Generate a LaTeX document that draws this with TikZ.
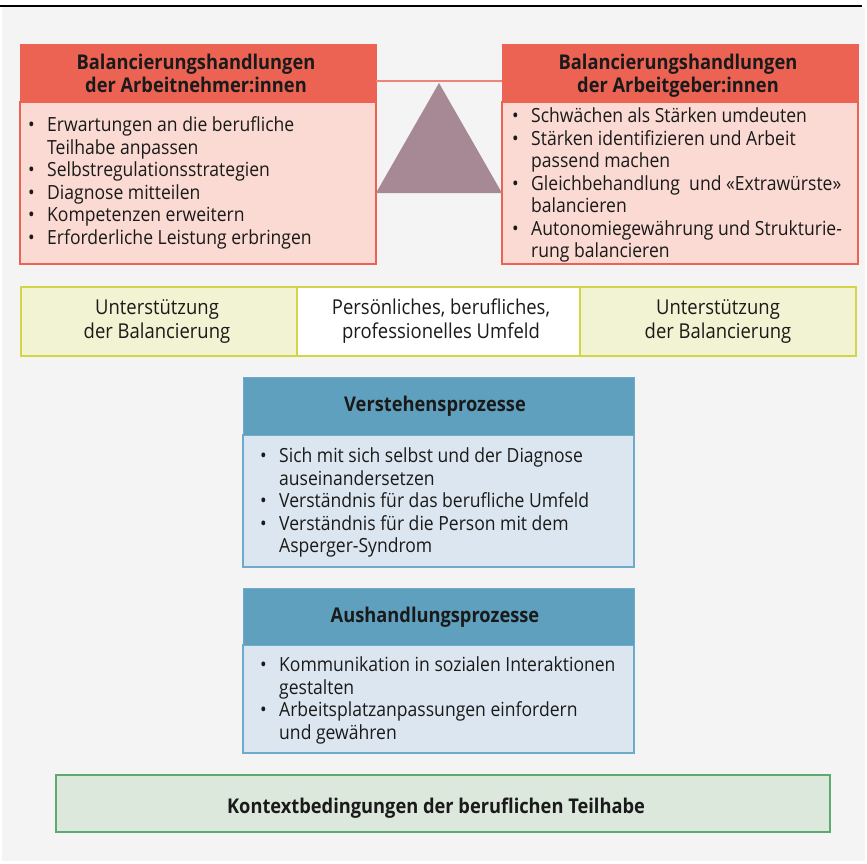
\documentclass[tikz,border=0pt]{standalone}
\usepackage{fontspec}
\setmainfont{Open Sans}[FakeStretch=0.9]
\definecolor{bggray}{HTML}{F4F4F4}
\definecolor{redhd}{HTML}{EC6354}
\definecolor{redbd}{HTML}{FADAD2}
\definecolor{beamc}{HTML}{EE8478}
\definecolor{tric}{HTML}{A78996}
\definecolor{yelf}{HTML}{F2F3D3}
\definecolor{yeld}{HTML}{D3D546}
\definecolor{bluehd}{HTML}{5FA0BE}
\definecolor{bluebd}{HTML}{DCE6F0}
\definecolor{bluedr}{HTML}{6EAACA}
\definecolor{grnf}{HTML}{DDE8DD}
\definecolor{grnd}{HTML}{5CAA70}
\definecolor{txt}{HTML}{1A1A1A}
\newcommand{\bodyfnt}{\fontsize{19.5}{22.5}\selectfont}
\newcommand{\bandfnt}{\fontsize{20.5}{24}\selectfont}
\newcommand{\hdfnt}{\fontsize{20.3}{23.4}\selectfont\bfseries}
\newcommand{\tlines}[2]{\begin{tabular}[t]{@{}#1@{}}#2\end{tabular}}
\newcommand{\bi}{\makebox[19pt][l]{•}}
\newcommand{\bc}{\hspace*{19pt}}
\begin{document}
\begin{tikzpicture}[x=1pt,y=-1pt,
  box/.style={anchor=north west, inner sep=0pt, outer sep=0pt},
  redhead/.style={box, fill=redhd, draw=redhd, line width=1pt},
  redbody/.style={box, fill=redbd, draw=redhd, line width=1.2pt},
  yelcell/.style={box, fill=yelf, draw=yeld, line width=1.2pt},
  whcell/.style={box, fill=white, draw=yeld, line width=1.2pt},
  bluehead/.style={box, fill=bluehd, draw=bluedr, line width=1pt},
  bluebody/.style={box, fill=bluebd, draw=bluedr, line width=1.2pt},
  grnbox/.style={box, fill=grnf, draw=grnd, line width=2.2pt},
  hdtxt/.style={anchor=base, inner sep=0pt, font=\hdfnt, text=txt},
  bdtxt/.style={anchor=base west, inner sep=0pt, font=\bodyfnt, text=txt},
  cttxt/.style={anchor=base, inner sep=0pt, font=\bandfnt, text=txt},
]
\useasboundingbox (0,0) rectangle (867,863);
\fill[white] (0,0) rectangle (867,863);
\fill[bggray] (2,7) rectangle (865,861);
\draw[line width=1.5pt] (0,6) -- (862,6);

% left red box
\node[redbody, minimum width=356pt, minimum height=162pt] (lbody) at (20,102) {};
\node[redhead, minimum width=356pt, minimum height=58pt] (lhead) at (20,44) {};
\node[hdtxt] (lheadt) at (196,69.3) {\tlines{c}{Balancierungshandlungen\\der Arbeitnehmer:innen}};
\node[bdtxt] (lbodyt) at (28,131.7) {\tlines{l}{%
\bi Erwartungen an die berufliche\\
\bc Teilhabe anpassen\\
\bi Selbstregulationsstrategien\\
\bi Diagnose mitteilen\\
\bi Kompetenzen erweitern\\
\bi Erforderliche Leistung erbringen}};

% right red box
\node[redbody, minimum width=356pt, minimum height=162pt] (rbody) at (502,102) {};
\node[redhead, minimum width=356pt, minimum height=58pt] (rhead) at (502,44) {};
\node[hdtxt] (rheadt) at (678,69.3) {\tlines{c}{Balancierungshandlungen\\der Arbeitgeber:innen}};
\node[bdtxt] (rbodyt) at (512,122.7) {\tlines{l}{%
\bi Schwächen als Stärken umdeuten\\
\bi Stärken identifizieren und Arbeit\\
\bc passend machen\\
\bi Gleichbehandlung\ \ und «Extrawürste»\\
\bc balancieren\\
\bi Autonomiegewährung und Strukturie-\\
\bc rung balancieren}};

% balance beam and triangle
\coordinate (beamL) at (376,81);
\coordinate (beamR) at (502,81);
\draw[beamc, line width=1.8pt] (beamL) -- (beamR);
\coordinate (apex) at (439,83);
\coordinate (baseR) at (502,193);
\coordinate (baseL) at (376,193);
\fill[tric] (apex) -- (baseR) -- (baseL) -- cycle;

% support band
\node[yelcell, minimum width=276pt, minimum height=69pt] (supL) at (21,287) {};
\node[yelcell, minimum width=276pt, minimum height=69pt] (supR) at (580,287) {};
\node[whcell, minimum width=283pt, minimum height=69pt] (umf) at (297,287) {};
\node[cttxt] (supLt) at (157,314) {\tlines{c}{Unterstützung\\der Balancierung}};
\node[cttxt] (umft) at (441,314) {\tlines{c}{Persönliches, berufliches,\\professionelles Umfeld}};
\node[cttxt] (supRt) at (718,314) {\tlines{c}{Unterstützung\\der Balancierung}};

% Verstehensprozesse
\node[bluebody, minimum width=391pt, minimum height=132pt] (vbody) at (243,435) {};
\node[bluehead, minimum width=391pt, minimum height=58pt] (vhead) at (243,377) {};
\node[hdtxt] (vheadt) at (435,411.7) {Verstehensprozesse};
\node[bdtxt] (vbodyt) at (260,462.7) {\tlines{l}{%
\bi Sich mit sich selbst und der Diagnose\\
\bc auseinandersetzen\\
\bi Verständnis für das berufliche Umfeld\\
\bi Verständnis für die Person mit dem\\
\bc Asperger-Syndrom}};

% Aushandlungsprozesse
\node[bluebody, minimum width=391pt, minimum height=108pt] (abody) at (243,645) {};
\node[bluehead, minimum width=391pt, minimum height=57pt] (ahead) at (243,588) {};
\node[hdtxt] (aheadt) at (435,622.3) {Aushandlungsprozesse};
\node[bdtxt] (abodyt) at (260,671.7) {\tlines{l}{%
\bi Kommunikation in sozialen Interaktionen\\
\bc gestalten\\
\bi Arbeitsplatzanpassungen einfordern\\
\bc und gewähren}};

% Kontext
\node[grnbox, minimum width=774pt, minimum height=57pt] (ktx) at (56,775) {};
\node[hdtxt] (ktxt) at (436,813) {Kontextbedingungen der beruflichen Teilhabe};
\end{tikzpicture}
\end{document}
